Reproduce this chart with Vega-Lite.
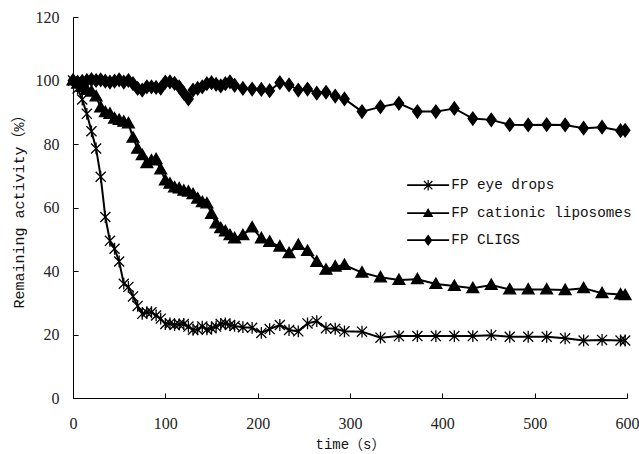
{
  "$schema": "https://vega.github.io/schema/vega-lite/v6.json",
  "autosize": "none",
  "width": 554,
  "height": 381,
  "padding": {"left": 73, "top": 17, "right": 12, "bottom": 56},
  "background": "white",
  "config": {
    "view": {"stroke": null},
    "axis": {
      "grid": false,
      "domainColor": "#000000",
      "domainWidth": 1,
      "tickColor": "#000000",
      "tickSize": -5,
      "labelFlush": false,
      "labelFont": "Liberation Serif",
      "labelFontSize": 16,
      "labelColor": "#222222",
      "titleFont": "Liberation Mono, Noto Sans CJK SC",
      "titleFontSize": 14,
      "titleFontWeight": "normal",
      "titleColor": "#111111"
    }
  },
  "data": {
    "values": [
      {"t": 0, "FP eye drops": 100, "FP cationic liposomes": 100, "FP CLIGS": 100},
      {"t": 5, "FP eye drops": 97.5, "FP cationic liposomes": 99, "FP CLIGS": 99.5},
      {"t": 10, "FP eye drops": 94, "FP cationic liposomes": 98, "FP CLIGS": 99.7},
      {"t": 15, "FP eye drops": 89.5, "FP cationic liposomes": 97, "FP CLIGS": 100},
      {"t": 20, "FP eye drops": 84, "FP cationic liposomes": 96.5, "FP CLIGS": 100.3},
      {"t": 25, "FP eye drops": 78.6, "FP cationic liposomes": 95, "FP CLIGS": 100},
      {"t": 30, "FP eye drops": 69.7, "FP cationic liposomes": 91.5, "FP CLIGS": 100.2},
      {"t": 35, "FP eye drops": 57, "FP cationic liposomes": 90, "FP CLIGS": 99.8},
      {"t": 40, "FP eye drops": 49.5, "FP cationic liposomes": 89.5, "FP CLIGS": 99.5},
      {"t": 45, "FP eye drops": 47, "FP cationic liposomes": 88, "FP CLIGS": 99.8},
      {"t": 50, "FP eye drops": 43, "FP cationic liposomes": 87.6, "FP CLIGS": 100.2},
      {"t": 55, "FP eye drops": 36, "FP cationic liposomes": 87, "FP CLIGS": 99.5},
      {"t": 60, "FP eye drops": 35, "FP cationic liposomes": 86.5, "FP CLIGS": 100},
      {"t": 65, "FP eye drops": 32, "FP cationic liposomes": 82, "FP CLIGS": 99},
      {"t": 70, "FP eye drops": 29, "FP cationic liposomes": 78.5, "FP CLIGS": 97.5},
      {"t": 75, "FP eye drops": 26.5, "FP cationic liposomes": 76.5, "FP CLIGS": 97},
      {"t": 80, "FP eye drops": 27, "FP cationic liposomes": 74, "FP CLIGS": 98},
      {"t": 85, "FP eye drops": 27, "FP cationic liposomes": 74.8, "FP CLIGS": 98},
      {"t": 90, "FP eye drops": 26, "FP cationic liposomes": 75.2, "FP CLIGS": 97.8},
      {"t": 95, "FP eye drops": 25, "FP cationic liposomes": 72, "FP CLIGS": 97.6},
      {"t": 100, "FP eye drops": 23.3, "FP cationic liposomes": 68.5, "FP CLIGS": 99.5},
      {"t": 105, "FP eye drops": 23.5, "FP cationic liposomes": 67.5, "FP CLIGS": 99.6},
      {"t": 110, "FP eye drops": 23, "FP cationic liposomes": 66.3, "FP CLIGS": 99.1},
      {"t": 115, "FP eye drops": 23.2, "FP cationic liposomes": 66, "FP CLIGS": 98},
      {"t": 120, "FP eye drops": 23.3, "FP cationic liposomes": 65.3, "FP CLIGS": 96},
      {"t": 125, "FP eye drops": 22.5, "FP cationic liposomes": 65, "FP CLIGS": 94.2},
      {"t": 130, "FP eye drops": 21.5, "FP cationic liposomes": 64.2, "FP CLIGS": 97},
      {"t": 135, "FP eye drops": 21.6, "FP cationic liposomes": 62.8, "FP CLIGS": 97.5},
      {"t": 140, "FP eye drops": 22.5, "FP cationic liposomes": 61.7, "FP CLIGS": 98},
      {"t": 145, "FP eye drops": 21.6, "FP cationic liposomes": 61.3, "FP CLIGS": 99},
      {"t": 150, "FP eye drops": 22, "FP cationic liposomes": 58, "FP CLIGS": 99.3},
      {"t": 155, "FP eye drops": 22.5, "FP cationic liposomes": 55, "FP CLIGS": 98.8},
      {"t": 160, "FP eye drops": 23.3, "FP cationic liposomes": 53.5, "FP CLIGS": 98.3},
      {"t": 165, "FP eye drops": 23.5, "FP cationic liposomes": 52.5, "FP CLIGS": 99},
      {"t": 170, "FP eye drops": 23, "FP cationic liposomes": 51.3, "FP CLIGS": 99.6},
      {"t": 175, "FP eye drops": 22.7, "FP cationic liposomes": 50.3, "FP CLIGS": 98.5},
      {"t": 184, "FP eye drops": 22.3, "FP cationic liposomes": 51.3, "FP CLIGS": 97.5},
      {"t": 194, "FP eye drops": 22.1, "FP cationic liposomes": 53.7, "FP CLIGS": 97.3},
      {"t": 204, "FP eye drops": 20.5, "FP cationic liposomes": 50.3, "FP CLIGS": 97.2},
      {"t": 213, "FP eye drops": 21.7, "FP cationic liposomes": 49.2, "FP CLIGS": 96.8},
      {"t": 224, "FP eye drops": 23, "FP cationic liposomes": 47.7, "FP CLIGS": 99.3},
      {"t": 234, "FP eye drops": 21.4, "FP cationic liposomes": 45.6, "FP CLIGS": 98.6},
      {"t": 244, "FP eye drops": 21, "FP cationic liposomes": 48.2, "FP CLIGS": 97},
      {"t": 254, "FP eye drops": 23.5, "FP cationic liposomes": 46.3, "FP CLIGS": 97.3},
      {"t": 264, "FP eye drops": 24.2, "FP cationic liposomes": 42.9, "FP CLIGS": 96},
      {"t": 274, "FP eye drops": 22, "FP cationic liposomes": 40.4, "FP CLIGS": 96.3},
      {"t": 284, "FP eye drops": 21.8, "FP cationic liposomes": 41.4, "FP CLIGS": 95.1},
      {"t": 294, "FP eye drops": 21, "FP cationic liposomes": 41.9, "FP CLIGS": 94.2},
      {"t": 313, "FP eye drops": 20.9, "FP cationic liposomes": 39.5, "FP CLIGS": 90.2},
      {"t": 333, "FP eye drops": 19, "FP cationic liposomes": 38, "FP CLIGS": 91.7},
      {"t": 353, "FP eye drops": 19.5, "FP cationic liposomes": 37.2, "FP CLIGS": 92.8},
      {"t": 373, "FP eye drops": 19.5, "FP cationic liposomes": 37.4, "FP CLIGS": 90.2},
      {"t": 393, "FP eye drops": 19.5, "FP cationic liposomes": 35.9, "FP CLIGS": 90.2},
      {"t": 413, "FP eye drops": 19.5, "FP cationic liposomes": 35.3, "FP CLIGS": 91.2},
      {"t": 433, "FP eye drops": 19.5, "FP cationic liposomes": 34.6, "FP CLIGS": 88},
      {"t": 453, "FP eye drops": 19.8, "FP cationic liposomes": 35.6, "FP CLIGS": 87.6},
      {"t": 473, "FP eye drops": 19.3, "FP cationic liposomes": 34.2, "FP CLIGS": 86.1},
      {"t": 493, "FP eye drops": 19.3, "FP cationic liposomes": 34.2, "FP CLIGS": 86},
      {"t": 513, "FP eye drops": 19.3, "FP cationic liposomes": 34.2, "FP CLIGS": 86.1},
      {"t": 533, "FP eye drops": 18.8, "FP cationic liposomes": 34, "FP CLIGS": 86},
      {"t": 553, "FP eye drops": 18.1, "FP cationic liposomes": 34.6, "FP CLIGS": 85},
      {"t": 573, "FP eye drops": 18.3, "FP cationic liposomes": 33, "FP CLIGS": 85.3},
      {"t": 593, "FP eye drops": 18.1, "FP cationic liposomes": 32.6, "FP CLIGS": 84.2},
      {"t": 598, "FP eye drops": 18.1, "FP cationic liposomes": 32.4, "FP CLIGS": 84.3}
    ]
  },
  "transform": [
    {"fold": ["FP eye drops", "FP cationic liposomes", "FP CLIGS"], "as": ["series", "value"]}
  ],
  "encoding": {
    "x": {
      "field": "t", "type": "quantitative",
      "scale": {"domain": [0, 600], "nice": false},
      "axis": {"values": [0, 100, 200, 300, 400, 500, 600], "title": "time（s）", "labelPadding": 22, "titlePadding": 6}
    },
    "y": {
      "field": "value", "type": "quantitative",
      "scale": {"domain": [0, 120], "nice": false},
      "axis": {"values": [0, 20, 40, 60, 80, 100, 120], "title": "Remaining activity（%）", "titleFontSize": 15, "labelPadding": 19, "titlePadding": 9}
    }
  },
  "layer": [
    {
      "mark": {"type": "line", "color": "#000000", "strokeWidth": 2},
      "encoding": {"detail": {"field": "series"}}
    },
    {
      "mark": {"type": "point", "filled": true, "color": "#000000", "stroke": "#000000", "strokeWidth": 1.3, "opacity": 1, "size": 140},
      "encoding": {
        "shape": {
          "field": "series", "type": "nominal",
          "scale": {
            "domain": ["FP eye drops", "FP cationic liposomes", "FP CLIGS"],
            "range": ["M-0.85,-0.85L0.85,0.85M-0.85,0.85L0.85,-0.85M0,-1L0,1", "M0,-1L1,0.75L-1,0.75Z", "M0,-1.1L0.8,0L0,1.1L-0.8,0Z"]
          },
          "legend": null
        }
      }
    },
    {
      "transform": [{"filter": "datum.t < 0"}],
      "mark": {"type": "point", "filled": true, "color": "#000000", "opacity": 1, "size": 110},
      "encoding": {
        "shape": {
          "field": "series", "type": "nominal",
          "scale": {
            "domain": ["FP eye drops", "FP cationic liposomes", "FP CLIGS"],
            "range": [
              "M-4,-0.16L4,-0.16L4,0.16L-4,0.16ZM-0.12,-1L0.12,-1L0.12,1L-0.12,1ZM-0.885,-0.715L-0.715,-0.885L0.885,0.715L0.715,0.885ZM-0.885,0.715L0.715,-0.885L0.885,-0.715L-0.715,0.885Z",
              "M-4,-0.16L4,-0.16L4,0.16L-4,0.16ZM0,-1L1,0.75L-1,0.75Z",
              "M-4,-0.16L4,-0.16L4,0.16L-4,0.16ZM0,-1.1L0.8,0L0,1.1L-0.8,0Z"
            ]
          },
          "legend": {
            "title": null,
            "orient": "none",
            "legendX": 348,
            "legendY": 161,
            "padding": 0,
            "symbolSize": 110,
            "labelFont": "Liberation Mono",
            "labelFontSize": 14.3,
            "labelColor": "#111111",
            "labelOffset": 16,
            "labelLimit": 0,
            "rowPadding": 10
          }
        }
      }
    }
  ],
  "resolve": {"scale": {"shape": "independent"}, "legend": {"shape": "independent"}}
}
